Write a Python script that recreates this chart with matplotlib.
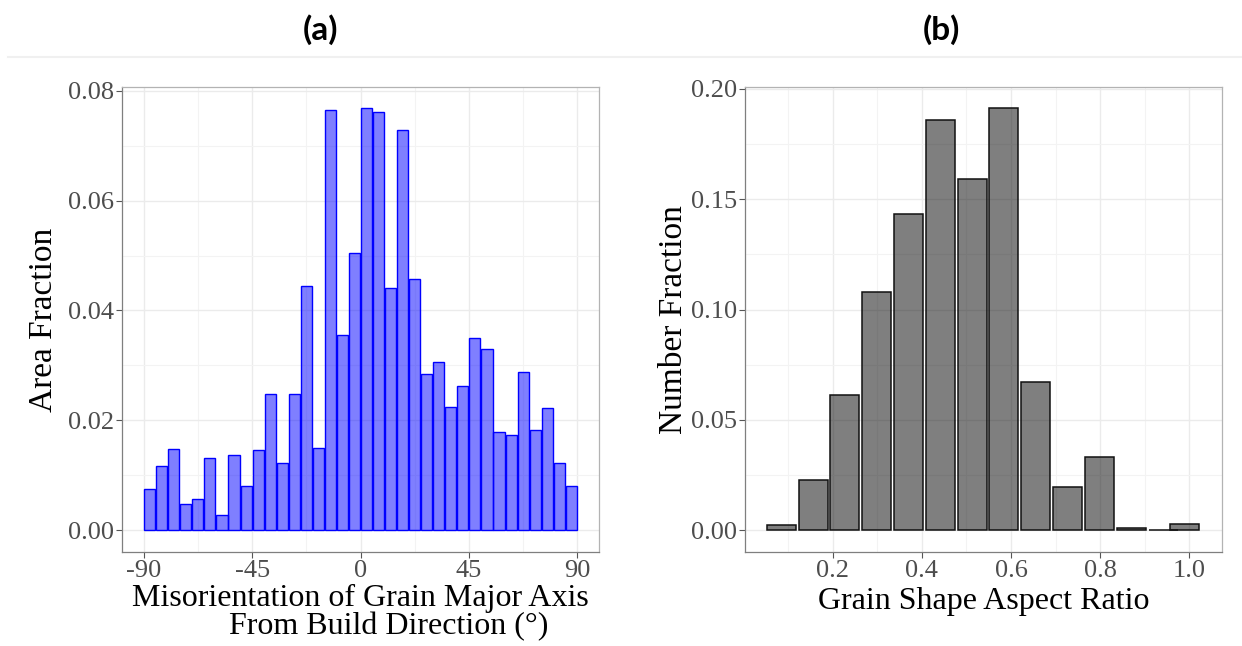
import matplotlib.pyplot as plt
from matplotlib.ticker import MultipleLocator
from matplotlib.lines import Line2D

plt.rcParams['axes.unicode_minus'] = False

# (a) misorientation histogram, 5-degree bins
angle_centers = [-87.5, -82.5, -77.5, -72.5, -67.5, -62.5, -57.5, -52.5, -47.5,
                 -42.5, -37.5, -32.5, -27.5, -22.5, -17.5, -12.5, -7.5, -2.5,
                 2.5, 7.5, 12.5, 17.5, 22.5, 27.5, 32.5, 37.5, 42.5,
                 47.5, 52.5, 57.5, 62.5, 67.5, 72.5, 77.5, 82.5, 87.5]
area_fraction = [0.0075, 0.0117, 0.0148, 0.0048, 0.0056, 0.0132, 0.0027, 0.0137, 0.0081,
                 0.0146, 0.0247, 0.0123, 0.0248, 0.0444, 0.0149, 0.0766, 0.0356, 0.0504,
                 0.0768, 0.0762, 0.0441, 0.0728, 0.0457, 0.0284, 0.0306, 0.0225, 0.0262,
                 0.0349, 0.0329, 0.0178, 0.0174, 0.0287, 0.0182, 0.0223, 0.0122, 0.0081]

# (b) aspect ratio histogram
aspect_centers = [0.085, 0.157, 0.227, 0.299, 0.370, 0.442, 0.514,
                  0.584, 0.655, 0.727, 0.799, 0.870, 0.941, 0.989]
number_fraction = [0.0026, 0.0230, 0.0614, 0.1079, 0.1431, 0.1858, 0.1593,
                   0.1912, 0.0673, 0.0195, 0.0333, 0.0011, 0.0003, 0.0030]

SERIF = ['Liberation Serif', 'DejaVu Serif']
TITLE_FONT = ['Lato', 'Open Sans', 'DejaVu Sans']
TICK_GREY = '#4d4d4d'
GRID = '#ebebeb'


def style_axes(ax):
    ax.set_facecolor('white')
    ax.grid(True, which='major', color=GRID, linewidth=1.0, zorder=0)
    ax.grid(True, which='minor', color='#f3f3f3', linewidth=0.8, zorder=0)
    ax.set_axisbelow(True)
    for side in ['top', 'right']:
        ax.spines[side].set_color('#b3b3b3')
        ax.spines[side].set_linewidth(0.9)
    for side in ['left', 'bottom']:
        ax.spines[side].set_color('#7f7f7f')
        ax.spines[side].set_linewidth(0.9)
    ax.tick_params(which='major', labelsize=19, labelcolor=TICK_GREY,
                   color='#555555', length=4, width=0.8, pad=2)
    ax.tick_params(which='minor', length=0)
    for lab in ax.get_xticklabels() + ax.get_yticklabels():
        lab.set_family(SERIF)


fig = plt.figure(figsize=(12.42, 6.46), dpi=100)

ax1 = fig.add_axes([122 / 1242, 94 / 646, 477 / 1242, 465 / 646])
ax1.bar(angle_centers, area_fraction, width=4.6, facecolor=(0, 0, 1, 0.5),
        edgecolor='#0000ff', linewidth=1.0, zorder=3)
ax1.set_xlim(-99, 99)
ax1.set_ylim(-0.004, 0.0807)
ax1.xaxis.set_major_locator(MultipleLocator(45))
ax1.xaxis.set_minor_locator(MultipleLocator(22.5))
ax1.yaxis.set_major_locator(MultipleLocator(0.02))
ax1.yaxis.set_minor_locator(MultipleLocator(0.01))
ax1.yaxis.set_major_formatter(plt.FuncFormatter(lambda v, p: f'{v:.2f}'))
style_axes(ax1)
ax1.set_ylabel('Area Fraction', fontsize=24, family=SERIF, labelpad=6)
ax1.set_xlabel('Misorientation of Grain Major Axis\n       From Build Direction (°)',
               fontsize=23, family=SERIF, labelpad=1, linespacing=0.95)

ax2 = fig.add_axes([745 / 1242, 94 / 646, 477 / 1242, 465 / 646])
ax2.bar(aspect_centers, number_fraction, width=0.065, facecolor=(0, 0, 0, 0.5),
        edgecolor='#111111', linewidth=1.1, zorder=3)
ax2.set_xlim(0.0033, 1.0733)
ax2.set_ylim(-0.0098, 0.2008)
ax2.xaxis.set_major_locator(MultipleLocator(0.2))
ax2.xaxis.set_minor_locator(MultipleLocator(0.1))
ax2.yaxis.set_major_locator(MultipleLocator(0.05))
ax2.yaxis.set_minor_locator(MultipleLocator(0.025))
ax2.xaxis.set_major_formatter(plt.FuncFormatter(lambda v, p: f'{v:.1f}'))
ax2.yaxis.set_major_formatter(plt.FuncFormatter(lambda v, p: f'{v:.2f}'))
style_axes(ax2)
ax2.set_ylabel('Number Fraction', fontsize=24, family=SERIF, labelpad=1)
ax2.set_xlabel('Grain Shape Aspect Ratio', fontsize=23, family=SERIF, labelpad=3)

# panel titles and the thin rule under them
fig.text(321 / 1242, 1 - 30 / 646, '(a)', fontsize=24, fontweight='bold',
         family=TITLE_FONT, ha='center', va='center')
fig.text(941 / 1242, 1 - 30 / 646, '(b)', fontsize=24, fontweight='bold',
         family=TITLE_FONT, ha='center', va='center')
fig.add_artist(Line2D([8 / 1242, 1.0], [1 - 57 / 646, 1 - 57 / 646],
                      transform=fig.transFigure, color='#f0f0f0', linewidth=1.5))

fig.savefig('out.png', dpi=100, facecolor='white')
